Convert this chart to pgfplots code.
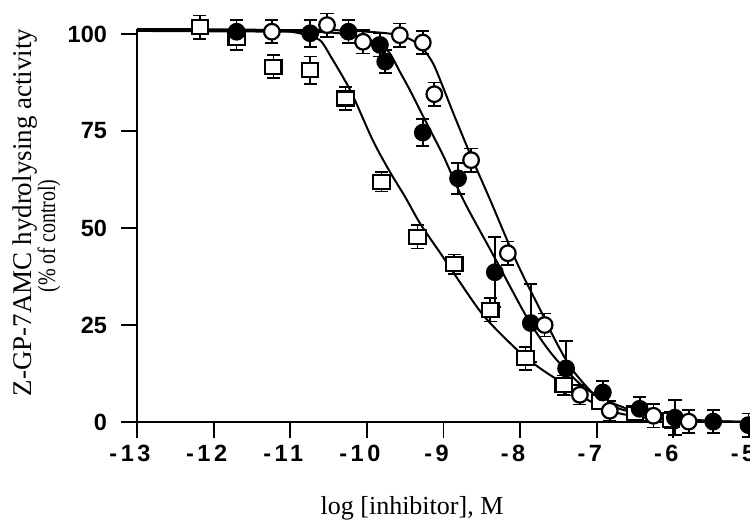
\documentclass[border=0pt]{standalone}
\usepackage{fontspec}
\setmainfont{Liberation Serif}
\newfontfamily\hv{Liberation Sans}
\newfontfamily\hvsp{Liberation Sans}[LetterSpace=15]
\usepackage{pgfplots}
\usepackage{pgfplotstable}
\pgfplotsset{compat=1.18}

\pgfdeclareplotmark{rect}{%
  \pgfpathrectangle{\pgfpoint{-4.1pt}{-3.5pt}}{\pgfpoint{8.2pt}{7pt}}%
  \pgfusepathqfillstroke}

% open squares
\pgfplotstableread{
x y e
-12.18 101.8 3
-11.70 98.9 3
-11.22 91.6 3
-10.74 90.7 3.5
-10.28 83.4 3
-9.81 61.9 2.5
-9.34 47.7 3
-8.86 40.7 2.5
-8.39 28.9 3
-7.93 16.4 3
-7.43 9.5 2.5
-6.96 5.2 2
-6.50 2.2 2
-6.03 0.5 2
}\sq

% filled circles
\pgfplotstableread{
x y e
-11.70 100.6 3
-10.74 100.2 3.5
-10.24 100.6 3
-9.83 97.2 3
-9.76 92.9 3
-9.27 74.6 3.5
-8.81 62.8 4
-8.33 38.6 9
-7.86 25.5 10
-7.40 13.8 7
-6.92 7.6 3
-6.44 3.4 3
-5.98 1.1 4.5
-5.48 0.1 3
-5.02 -0.8 3
}\fc

% open circles
\pgfplotstableread{
x y e
-11.24 100.6 3
-10.52 102.3 3
-10.05 98.0 3
-9.57 99.7 3
-9.27 97.8 3
-9.12 84.5 3
-8.64 67.5 3
-8.16 43.5 3
-7.68 25.0 3
-7.22 7.0 2.5
-6.83 2.9 2.5
-6.26 1.6 3
-5.80 0.1 3
}\oc

% fitted curves (read from picture)
\pgfplotstableread{
x y
-13 101.3
-12 101.2
-11.2 101.0
-10.9 100.3
-10.75 99.4
-10.6 98.2
-10.45 93.5
-10.3 88.5
-10.18 84
-9.92 72.5
-9.7 64.5
-9.5 58
-9.3 51
-9.04 43.5
-8.87 38.5
-8.48 27.5
-8.04 18.6
-7.75 14
-7.46 10.2
-7.1 5.5
-6.78 2.6
-6.4 1.2
-6.0 0.4
-5.5 0.1
-5 0
}\sqfit

\pgfplotstableread{
x y
-13 100.8
-11 100.6
-10.5 100.4
-10.2 99.8
-10.0 98.8
-9.83 97.3
-9.7 95.0
-9.57 90.3
-9.44 85.6
-9.24 77.8
-9.0 68.5
-8.74 57.2
-8.35 43
-7.93 27.6
-7.7 20.5
-7.5 15.5
-7.2 9.5
-6.9 5.8
-6.5 2.8
-6.0 1.0
-5.5 0.3
-5 0
}\fcfit

\pgfplotstableread{
x y
-13 101
-10.5 101
-10.0 100.6
-9.7 100.1
-9.5 99.2
-9.35 97.7
-9.25 95.8
-9.13 92.2
-9.0 86
-8.87 79.5
-8.64 68.5
-8.39 57.2
-8.04 41
-7.74 29
-7.5 19.5
-7.3 13
-7.0 6.5
-6.7 3.4
-6.3 1.6
-6.0 0.8
-5.5 0.2
-5 0
}\ocfit

\begin{document}
\begin{tikzpicture}
\begin{axis}[
  at={(0,0)}, anchor=south west,
  scale only axis, width=306.5pt, height=196.5pt,
  xmin=-13, xmax=-5, ymin=0, ymax=101.3,
  axis x line*=bottom, axis y line*=left,
  axis line style={line width=0.9pt, black},
  tick align=outside, major tick length=8pt,
  tick style={line width=0.9pt, black},
  xtick={-13,-12,...,-5},
  xticklabels={-13,-12,-11,-10,-9,-8,-7,-6,-5},
  ytick={0,25,50,75,100},
  yticklabels={0,25,50,75,100},
  xticklabel style={font=\hvsp\bfseries\fontsize{11.75}{14}\selectfont, xshift=-3.5pt},
  yticklabel style={font=\hv\bfseries\fontsize{11.75}{14}\selectfont, xshift=-3.5pt},
  clip=false,
]
% curves
\addplot[black, line width=1pt, smooth, no markers] table[x=x,y=y]{\sqfit};
\addplot[black, line width=1pt, smooth, no markers] table[x=x,y=y]{\fcfit};
\addplot[black, line width=1pt, smooth, no markers] table[x=x,y=y]{\ocfit};
% error bars
\pgfplotsset{myerr/.style={only marks, mark=none, forget plot,
  error bars/.cd, y dir=both, y explicit,
  error bar style={line width=0.85pt, black},
  error mark options={line width=0.85pt, black, mark size=3.3pt, rotate=90}}}
\addplot[myerr] table[x=x,y=y,y error=e]{\sq};
\addplot[myerr] table[x=x,y=y,y error=e]{\fc};
\addplot[myerr] table[x=x,y=y,y error=e]{\oc};
% markers
\addplot[only marks, mark=rect, mark options={draw=black, fill=white, line width=1.1pt}] table[x=x,y=y]{\sq};
\addplot[only marks, mark=*, mark size=3.9pt, mark options={draw=black, fill=black, line width=1.1pt}] table[x=x,y=y]{\fc};
\addplot[only marks, mark=*, mark size=3.9pt, mark options={draw=black, fill=white, line width=1.1pt}] table[x=x,y=y]{\oc};
\end{axis}
\node[rotate=90, font=\fontsize{13.5}{15}\selectfont] at (-56pt,104.75pt) {Z-GP-7AMC hydrolysing activity};
\node[rotate=90, font=\fontsize{12.5}{14}\selectfont] at (-44pt,93pt) {\scalebox{0.8}[1]{(\% of control)}};
\node[font=\fontsize{13}{15}\selectfont] at (137.5pt,-43pt) {log [inhibitor], M};
\pgfresetboundingbox
\path[use as bounding box] (-68.5pt,-51pt) rectangle (306.5pt,211pt);
\end{tikzpicture}
\end{document}
